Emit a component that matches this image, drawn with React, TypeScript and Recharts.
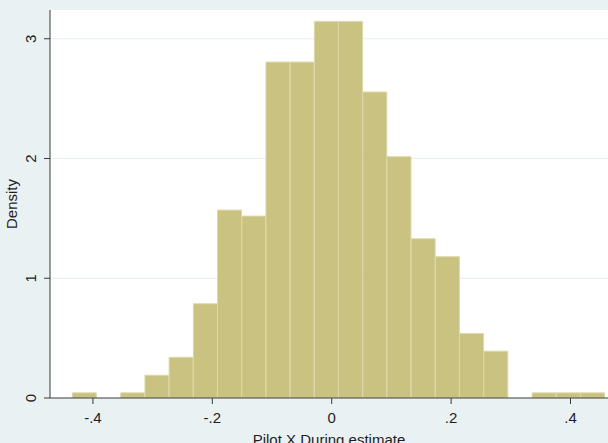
import React from "react";
import { BarChart, Bar, XAxis, YAxis, CartesianGrid, Label } from "recharts";

// Bin midpoints (Pilot X During estimate) and histogram densities
const binMids = [
  -0.4142, -0.3737, -0.3332, -0.2926, -0.2521, -0.2115, -0.171, -0.1305,
  -0.0899, -0.0494, -0.0088, 0.0317, 0.0723, 0.1128, 0.1533, 0.1939,
  0.2344, 0.275, 0.3155, 0.356, 0.3966, 0.4371,
];
const densities = [
  0.043, 0, 0.043, 0.19, 0.34, 0.787, 1.569, 1.519, 2.805, 2.805, 3.145,
  3.145, 2.555, 2.015, 1.33, 1.18, 0.539, 0.391, 0, 0.043, 0.043, 0.043,
];
const xTicks = [-0.4, -0.2, 0, 0.2, 0.4];
const yTicks = [0, 1, 2, 3];
const xDomain: [number, number] = [-0.4719, 0.4628];
const yDomain: [number, number] = [0, 3.24];

const data = binMids.map((m, i) => ({ mid: m, density: densities[i] }));

const FONT = "'Liberation Sans', Arial, sans-serif";
const AXIS = "#3a3a3a";

const fmtX = (v: number) => {
  if (v === 0) return "0";
  const s = String(v);
  return s.replace(/^(-?)0\./, "$1.");
};

const YTick = (props: any) => {
  const { x, y, payload } = props;
  return (
    <g transform={`translate(${x},${y})`}>
      <text
        transform="rotate(-90)"
        textAnchor="middle"
        x={0}
        y={0}
        fontSize={15}
        fontFamily={FONT}
        fill="#1e1e1e"
      >
        {String(payload.value)}
      </text>
    </g>
  );
};

const YTitle = (props: any) => {
  const vb = props.viewBox || {};
  const cx = 17;
  const cy = vb.y + vb.height / 2;
  return (
    <text
      transform={`translate(${cx},${cy}) rotate(-90)`}
      textAnchor="middle"
      fontSize={15}
      fontFamily={FONT}
      fill="#1e1e1e"
    >
      Density
    </text>
  );
};

export default function App() {
  return (
    <div
      style={{
        position: "absolute",
        left: 0,
        top: 0,
        width: 608,
        height: 443,
        background: "#e9f1f3",
        overflow: "hidden",
      }}
    >
      <BarChart
        width={608}
        height={443}
        data={data}
        margin={{ top: 10, right: 0, left: 0, bottom: 0 }}
        barCategoryGap={0}
        barGap={0}
      >
        <CartesianGrid
          vertical={false}
          fill="#ffffff"
          stroke="#e6eef0"
          horizontalValues={[1, 2, 3]}
        />
        <XAxis
          dataKey="mid"
          type="number"
          domain={xDomain}
          allowDataOverflow
          ticks={xTicks}
          tickFormatter={fmtX}
          height={45}
          stroke={AXIS}
          tickSize={6}
          tickMargin={8}
          tick={{ fontSize: 15, fontFamily: FONT, fill: "#1e1e1e" }}
          interval={0}
        >
          <Label
            value="Pilot X During estimate"
            position="insideBottom"
            offset={-2}
            fontSize={15}
            fontFamily={FONT}
            fill="#1e1e1e"
          />
        </XAxis>
        <YAxis
          type="number"
          domain={yDomain}
          allowDataOverflow
          ticks={yTicks}
          width={50}
          stroke={AXIS}
          tickSize={6}
          tickMargin={8}
          tick={<YTick />}
          interval={0}
          label={<YTitle />}
        />
        <Bar
          dataKey="density"
          fill="#c9c280"
          stroke="#ddd8aa"
          strokeWidth={1}
          isAnimationActive={false}
        />
      </BarChart>
    </div>
  );
}
